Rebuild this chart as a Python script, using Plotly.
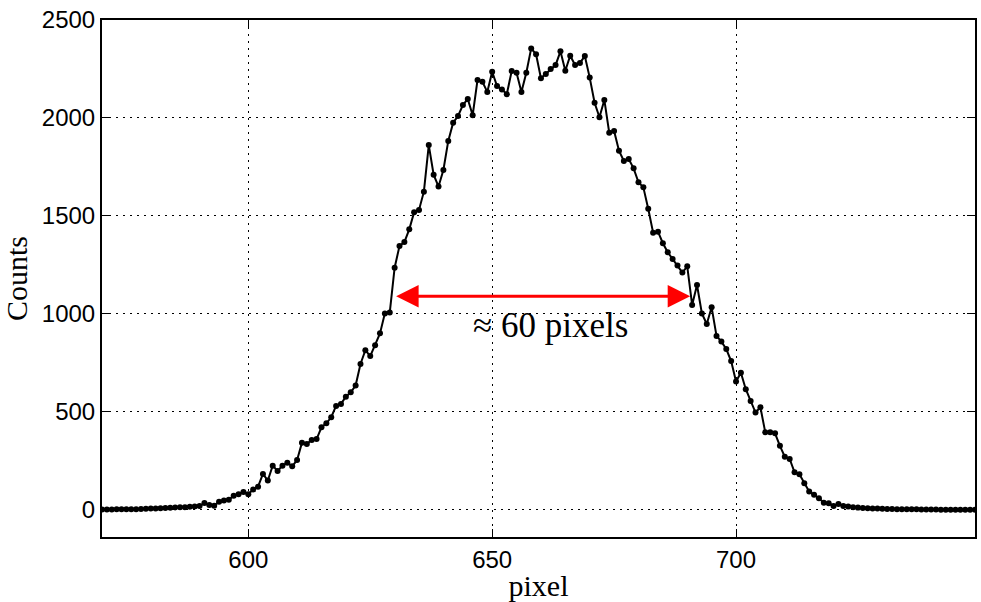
import plotly.graph_objects as go

# Detector pixel index along the slit and the counts recorded in each pixel
pixel = list(range(570, 750))
counts = [
    2, 2, 2, 3, 3, 3, 4, 4, 5, 6, 7, 8, 9, 10, 11, 13, 14, 14, 16, 18,        # 570-589
    20, 35, 25, 22, 42, 48, 52, 72, 80, 92,                                    # 590-599
    80, 105, 119, 184, 150, 226, 199, 226, 241, 223,                           # 600-609
    255, 343, 337, 357, 362, 422, 442, 473, 531, 541,                          # 610-619
    578, 600, 635, 745, 815, 785, 840, 901, 1003, 1007,                        # 620-629
    1236, 1347, 1367, 1432, 1519, 1531, 1624, 1862, 1711, 1650,                # 630-639
    1735, 1883, 1976, 2010, 2066, 2097, 2014, 2194, 2185, 2133,                # 640-649
    2236, 2163, 2146, 2121, 2240, 2231, 2133, 2231, 2355, 2325,                # 650-659
    2203, 2225, 2250, 2270, 2340, 2241, 2318, 2270, 2281, 2316,                # 660-669
    2206, 2078, 2004, 2092, 1925, 1934, 1833, 1781, 1791, 1743,                # 670-679
    1672, 1646, 1537, 1415, 1420, 1361, 1315, 1281, 1247, 1211,                # 680-689
    1243, 1046, 1148, 1003, 949, 1034, 888, 859, 821, 760,                     # 690-699
    655, 700, 616, 556, 497, 524, 396, 396, 391, 327,                          # 700-709
    272, 260, 192, 182, 136, 94, 77, 60, 37, 34,                               # 710-719
    20, 31, 20, 17, 14, 12, 10, 9, 8, 7,                                       # 720-729
    6, 5, 5, 4, 4, 3, 3, 3, 2, 2,                                              # 730-739
    2, 2, 1, 1, 1, 1, 1, 1, 1, 1,                                              # 740-749
]
assert len(pixel) == len(counts)

x_ticks = [600, 650, 700]
y_ticks = [0, 500, 1000, 1500, 2000, 2500]

# Width marker: double arrow spanning the half-maximum region
arrow_x = [630.0, 690.6]
arrow_y = 1090
width_label = "≈ 60 pixels"
width_label_pos = (662, 940)

serif = "Liberation Serif"
sans = "Liberation Sans"

fig = go.Figure()
fig.add_trace(go.Scatter(
    x=pixel, y=counts, mode="lines+markers",
    line=dict(color="black", width=2),
    marker=dict(color="black", size=6),
    showlegend=False, hoverinfo="skip",
))

fig.add_annotation(
    x=arrow_x[1], y=arrow_y, ax=arrow_x[0], ay=arrow_y,
    xref="x", yref="y", axref="x", ayref="y",
    text="", showarrow=True, arrowside="end+start",
    arrowhead=2, arrowsize=1.5, arrowwidth=3, arrowcolor="red",
    standoff=0, startstandoff=0,
)
fig.add_annotation(
    x=width_label_pos[0], y=width_label_pos[1], xref="x", yref="y",
    text=width_label, showarrow=False,
    font=dict(family=serif, size=35, color="black"),
)

axis_common = dict(
    showline=True, linecolor="black", linewidth=2, mirror="allticks",
    ticks="inside", ticklen=8, tickwidth=1, tickcolor="black",
    showgrid=True, gridcolor="black", gridwidth=1, griddash="2px,5px",
    zeroline=False, tickfont=dict(family=sans, size=24, color="black"),
)

fig.update_xaxes(
    range=[570, 749], tickvals=x_ticks, ticktext=[str(v) for v in x_ticks],
    title=dict(text="pixel", font=dict(family=serif, size=30, color="black"), standoff=2),
    **axis_common,
)
fig.update_yaxes(
    range=[-138, 2500], tickvals=y_ticks, ticktext=[str(v) for v in y_ticks],
    title=dict(text="Counts", font=dict(family=serif, size=30, color="black"), standoff=6),
    **axis_common,
)

fig.update_layout(
    width=981, height=602,
    margin=dict(l=102, r=4, t=20, b=65),
    paper_bgcolor="white", plot_bgcolor="white",
)

fig.write_html("out.html")
